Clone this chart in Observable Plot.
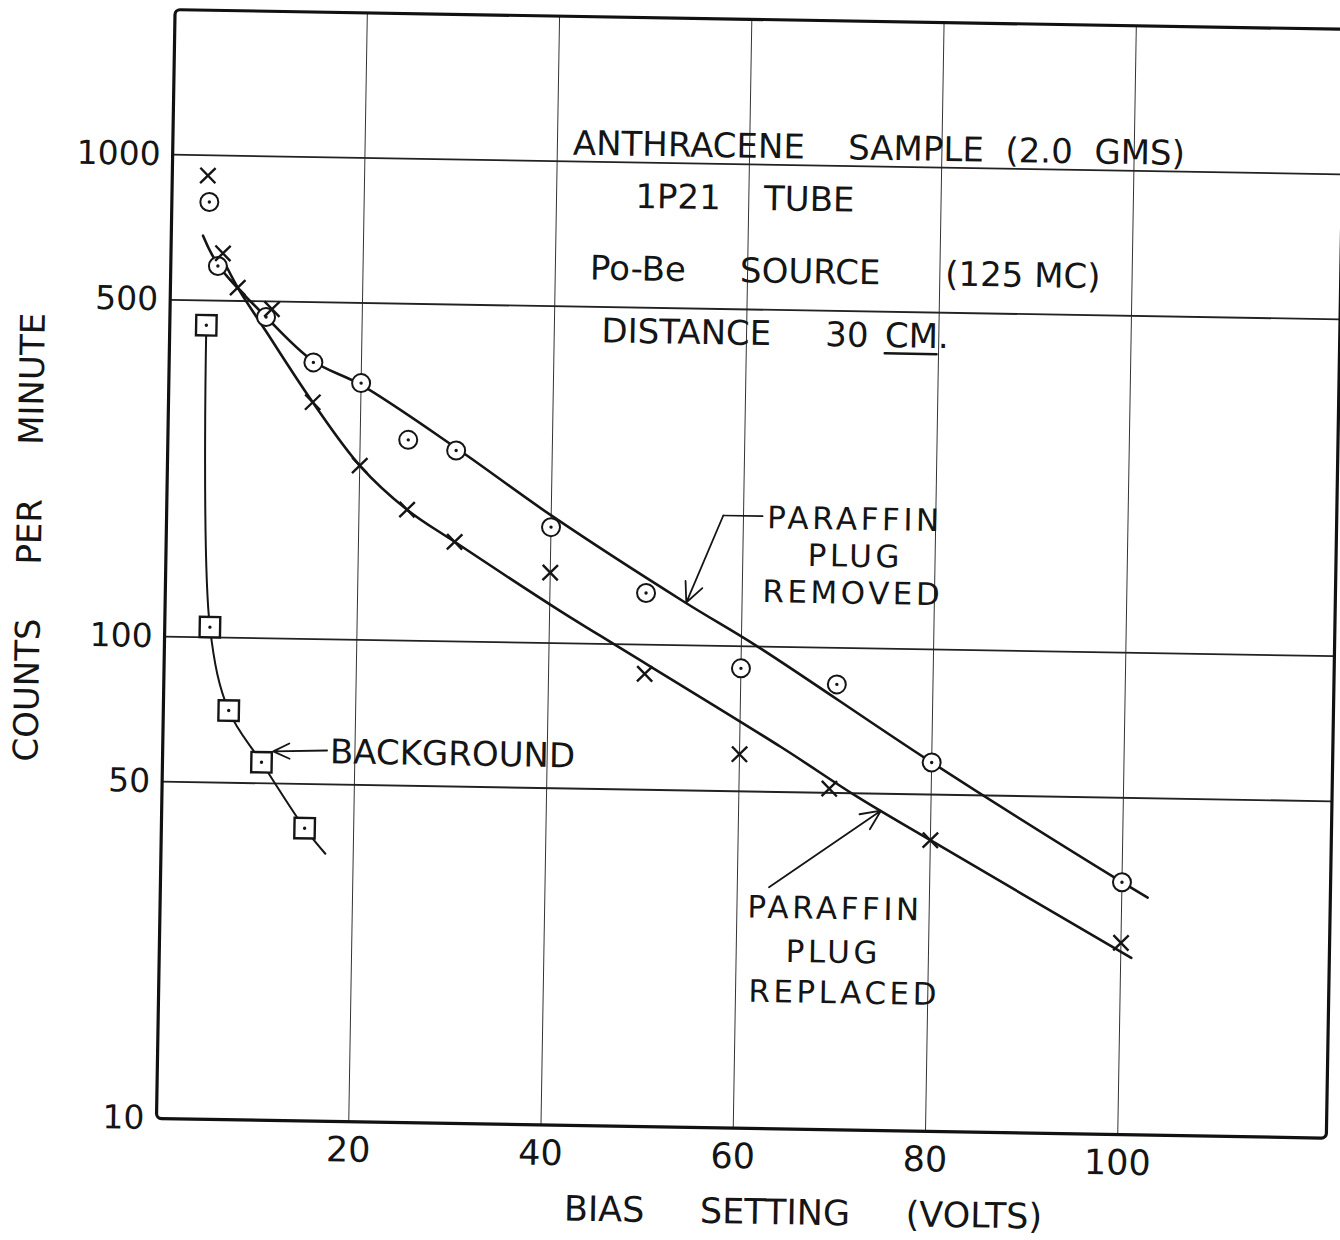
<!DOCTYPE html>
<html>
<head>
<meta charset="utf-8">
<script src="https://cdn.jsdelivr.net/npm/d3@7"></script>
<script src="https://cdn.jsdelivr.net/npm/@observablehq/plot@0.6"></script>
<style>
  html, body { margin: 0; padding: 0; background: #fff; }
  #chart { width: 1340px; height: 1240px; overflow: hidden; }
  #chart svg text { white-space: pre; }
</style>
</head>
<body>
<div id="chart"></div>
<script>
// ---- measured points ----
const biasRemoved    = [3.9, 4.9, 10, 15, 20, 25, 30, 40, 50, 60, 70, 80, 100];
const countsRemoved  = [800, 590, 464, 375, 341, 261, 249, 174, 128, 90, 84, 58.3, 33.4];
const biasReplaced   = [3.7, 5.4, 7, 10.6, 15, 20, 25, 30, 40, 50, 60, 69.4, 80, 100];
const countsReplaced = [908, 627, 533, 482, 310, 230, 187, 161, 140, 87, 59.7, 51, 40.2, 25];
const biasBackground   = [3.8, 4.7, 6.8, 10.3, 14.9];
const countsBackground = [444, 105, 70.6, 55.3, 40.5];

// ---- hand-drawn fitted curves ----
const fitRemovedBias    = [3.3, 5, 10, 15, 20, 30, 40, 54, 61.7, 80, 100, 102.7];
const fitRemovedCounts  = [681, 590, 464, 377, 338, 252, 184, 123, 100, 58.3, 33.4, 31.1];
const fitReplacedBias   = [5.4, 7, 10, 15, 20, 25, 30, 41, 45.3, 64.3, 72.3, 80, 101.1];
const fitReplacedCounts = [610, 533, 434, 310, 230, 187, 161, 117, 104, 62, 49.2, 40.2, 23.3];
const fitBackgroundBias   = [3.8, 4.7, 6.8, 10.3, 14.9, 17.1];
const fitBackgroundCounts = [444, 105, 70.6, 55.3, 40.5, 35.9];

// ---- axes ----
const xTicks = [20, 40, 60, 80, 100];
const yTicks = [10, 50, 100, 500, 1000];
const yGrid  = [50, 100, 500, 1000];
const xLabel = "BIAS     SETTING     (VOLTS)";
const yLabel = "COUNTS     PER     MINUTE";

// ---- annotations ----
const noteText   = ["ANTHRACENE    SAMPLE  (2.0  GMS)", "1P21    TUBE", "Po-Be     SOURCE      (125 MC)", "DISTANCE     30", "CM.", "BACKGROUND"];
const noteBias   = [41.6, 48.2, 43.6, 44.9, 74.4, 17.4];
const noteCounts = [1088, 848, 600, 445, 445, 58.3];
const underlineBias = [74.4, 79.8];
const underlineCounts = [410, 410];

const blockText   = ["PARAFFIN", "PLUG", "REMOVED", "PARAFFIN", "PLUG", "REPLACED"];
const blockBias   = [71.6, 71.7, 71.5, 70.2, 70.1, 71.3];
const blockCounts = [184.6, 154.7, 129.7, 28.7, 23.3, 19.2];

const arrowBias1   = [57.9, 63.3, 17.1];
const arrowCounts1 = [186.5, 31.7, 58.8];
const arrowBias2   = [54.2, 74.8, 11.5];
const arrowCounts2 = [122.7, 46.1, 58.3];
const leaderBias   = [62.0, 57.9];
const leaderCounts = [186.5, 186.5];

const zip = (xs, ys) => xs.map((x, i) => ({x, y: ys[i]}));
const removed = zip(biasRemoved, countsRemoved);
const replaced = zip(biasReplaced, countsReplaced);
const background = zip(biasBackground, countsBackground);
const fitRemoved = zip(fitRemovedBias, fitRemovedCounts);
const fitReplaced = zip(fitReplacedBias, fitReplacedCounts);
const fitBackground = zip(fitBackgroundBias, fitBackgroundCounts);
const notes = noteText.map((t, i) => ({t, x: noteBias[i], y: noteCounts[i]}));
const blocks = blockText.map((t, i) => ({t, x: blockBias[i], y: blockCounts[i]}));
const arrows = arrowBias1.map((x1, i) => ({x1, y1: arrowCounts1[i], x2: arrowBias2[i], y2: arrowCounts2[i]}));

const ink = "#151515";
const font = "'DejaVu Sans', 'Liberation Sans', sans-serif";

const chart = Plot.plot({
  width: 1340,
  height: 1240,
  marginLeft: 156,
  marginRight: 14,
  marginTop: 9,
  marginBottom: 122,
  x: {domain: [0, 121.7], axis: null},
  y: {type: "log", domain: [10, 2000], axis: null},
  style: {fontFamily: font, fontSize: "34px", color: ink, background: "white"},
  marks: [
    Plot.ruleX(xTicks, {stroke: "#333", strokeWidth: 1}),
    Plot.ruleY(yGrid, {stroke: "#222", strokeWidth: 1.8}),
    Plot.line(fitRemoved, {x: "x", y: "y", curve: "catmull-rom", stroke: ink, strokeWidth: 2.6}),
    Plot.line(fitReplaced, {x: "x", y: "y", curve: "catmull-rom", stroke: ink, strokeWidth: 2.6}),
    Plot.line(fitBackground, {x: "x", y: "y", curve: "catmull-rom", stroke: ink, strokeWidth: 2}),
    Plot.line(zip(leaderBias, leaderCounts), {x: "x", y: "y", stroke: ink, strokeWidth: 1.6}),
    Plot.arrow(arrows, {x1: "x1", y1: "y1", x2: "x2", y2: "y2", stroke: ink, strokeWidth: 1.8, headLength: 18, headAngle: 50}),
    Plot.line(zip(underlineBias, underlineCounts), {x: "x", y: "y", stroke: ink, strokeWidth: 2.4}),
    // markers
    Plot.dot(removed, {x: "x", y: "y", r: 9, stroke: ink, strokeWidth: 2, fill: "white"}),
    Plot.dot(removed, {x: "x", y: "y", r: 1.7, fill: ink}),
    Plot.dot(background, {x: "x", y: "y", symbol: "square", r: 11.5, stroke: ink, strokeWidth: 2.4, fill: "white"}),
    Plot.dot(background, {x: "x", y: "y", r: 1.7, fill: ink}),
    Plot.dot(replaced, {x: "x", y: "y", symbol: "times", r: 7, stroke: ink, strokeWidth: 2.4}),
    // annotations
    Plot.text(notes, {x: "x", y: "y", text: "t", textAnchor: "start", lineAnchor: "middle", fontSize: 34, fill: ink}),
    Plot.text(blocks, {x: "x", y: "y", text: "t", textAnchor: "middle", lineAnchor: "middle", fontSize: 31, fill: ink}),
    Plot.text([xLabel], {x: 67.4, y: 10, dy: 84, text: d => d, lineAnchor: "middle", fontSize: 35, fill: ink}),
    Plot.text([yLabel], {x: 0, y: 159, dx: -136, rotate: -90, text: d => d, lineAnchor: "middle", fontSize: 34, fill: ink}),
    // axes
    Plot.axisX(xTicks, {anchor: "bottom", tickSize: 0, tickPadding: 15, fontSize: 35, label: null, tickFormat: d => String(d)}),
    Plot.axisY(yTicks, {anchor: "left", tickSize: 0, tickPadding: 12, fontSize: 33, label: null, tickFormat: d => String(d)}),
    Plot.frame({stroke: "#111", strokeWidth: 3.2, rx: 5})
  ]
});
d3.select(chart).selectAll("text")
  .filter(function() { return blockText.includes(this.textContent); })
  .style("letter-spacing", "3.5px");
chart.style.transform = "rotate(0.96deg)";
chart.style.transformOrigin = "156px 1118px";
document.getElementById("chart").appendChild(chart);
</script>
</body>
</html>
